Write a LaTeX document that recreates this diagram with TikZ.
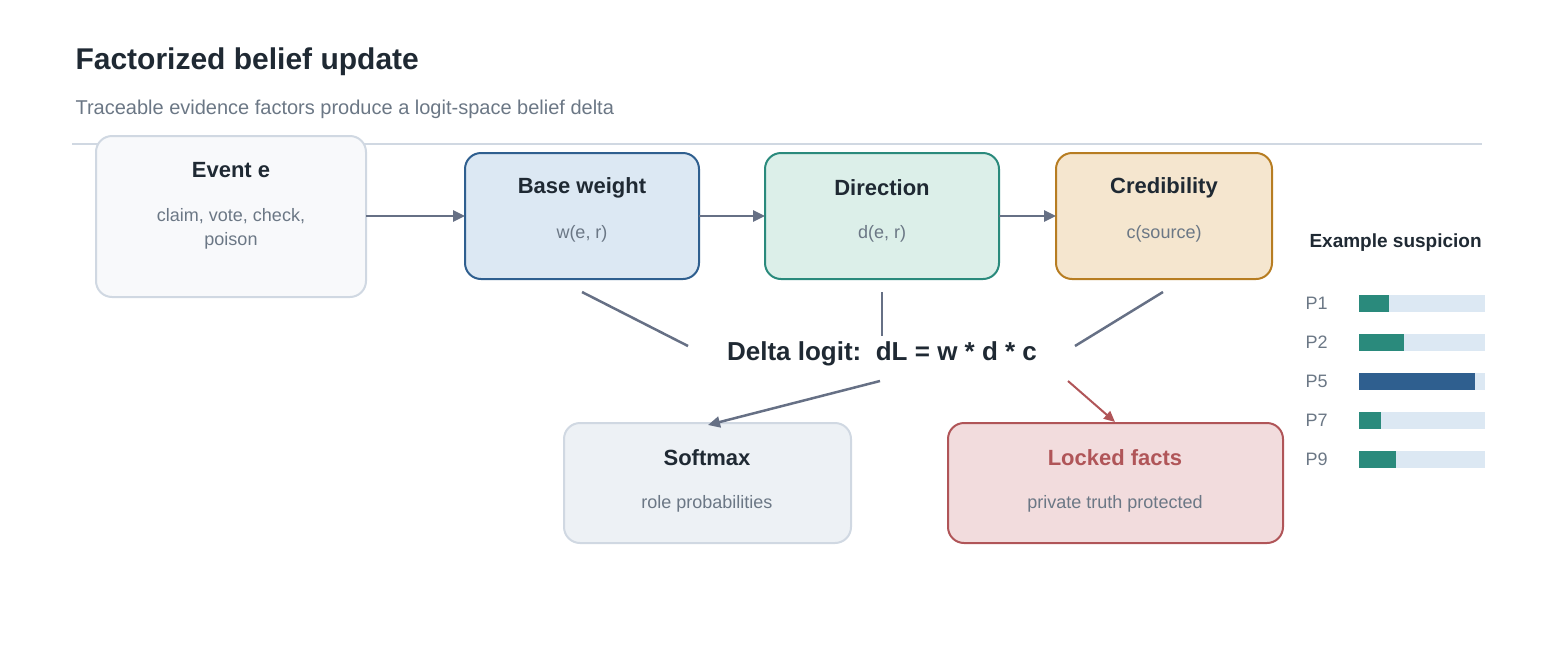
\documentclass[tikz,border=0pt]{standalone}
\usepackage{fontspec}
\setmainfont{Liberation Sans}
\usetikzlibrary{arrows.meta}
\definecolor{ink}{HTML}{1F2933}
\definecolor{mute}{HTML}{6B7785}
\definecolor{edge}{HTML}{667085}
\definecolor{bluef}{HTML}{DCE8F3}\definecolor{blued}{HTML}{2F5F8F}
\definecolor{tealf}{HTML}{DCEFE9}\definecolor{teald}{HTML}{2A8A7C}
\definecolor{ochf}{HTML}{F5E6CF}\definecolor{ochd}{HTML}{B77D22}
\definecolor{grayf}{HTML}{EDF1F5}\definecolor{grayd}{HTML}{D0D8E2}
\definecolor{redf}{HTML}{F2DCDD}\definecolor{redd}{HTML}{B05558}
\tikzset{
  box/.style = {rounded corners=16pt, line width=2pt},
  head/.style = {font=\fontsize{22}{26}\selectfont\bfseries, text=ink},
  sub/.style = {font=\fontsize{18}{24}\selectfont, text=mute, align=center},
  flow/.style = {draw=edge, line width=2.5pt, -{Triangle[length=12pt,width=11pt]}},
  link/.style = {draw=edge, line width=2.5pt},
  track/.style = {fill=bluef},
  plab/.style = {font=\fontsize{18}{20}\selectfont, text=mute, anchor=west}
}
\begin{document}
\begin{tikzpicture}[x=1pt,y=-1pt]
	\useasboundingbox (0,0) rectangle (1556,670);
	
	% Header
	\node[anchor=west, font=\fontsize{30}{34}\selectfont\bfseries, text=ink] (title) at (72,62) {Factorized belief update};
	\node[anchor=west, font=\fontsize{20}{24}\selectfont, text=mute] (subtitle) at (72,109) {Traceable evidence factors produce a logit-space belief delta};
	\draw[grayd, line width=1.5pt] (72,144) -- (1482,144);
	
	% Boxes
	\draw[box, fill=white!60!grayf, draw=grayd] (96,136) rectangle (366,297);
	\draw[box, fill=bluef, draw=blued] (465,153) rectangle (699,279);
	\draw[box, fill=tealf, draw=teald] (765,153) rectangle (999,279);
	\draw[box, fill=ochf, draw=ochd] (1056,153) rectangle (1272,279);
	\draw[box, fill=grayf, draw=grayd] (564,423) rectangle (851,543);
	\draw[box, fill=redf, draw=redd] (948,423) rectangle (1283,543);
	
	% Texts
	\node[head] (event) at (231,170) {Event e};
	\node[sub] (eventsub) at (231,229) {claim, vote, check,\\poison};
	\node[head] (base) at (582,188) {Base weight};
	\node[sub] (basesub) at (582,234) {w(e, r)};
	\node[head] (dir) at (882,188) {Direction};
	\node[sub] (dirsub) at (882,234) {d(e, r)};
	\node[head] (cred) at (1164,188) {Credibility};
	\node[sub] (credsub) at (1164,234) {c(source)};
	\node[head] (soft) at (707,458) {Softmax};
	\node[sub] (softsub) at (707,504) {role probabilities};
	\node[head, text=redd] (lock) at (1115,458) {Locked facts};
	\node[sub] (locksub) at (1115,504) {private truth protected};
	\node[font=\fontsize{26}{30}\selectfont\bfseries, text=ink] (delta) at (882,354) {Delta logit:\ \ dL = w * d * c};
	
	% Anchors for connectors
	\coordinate (eR) at (366,216); \coordinate (bL) at (465,216);
	\coordinate (bR) at (699,216); \coordinate (dL) at (765,216);
	\coordinate (dR) at (999,216); \coordinate (cL) at (1056,216);
	\coordinate (bB) at (582,292); \coordinate (xL) at (688,346);
	\coordinate (dB) at (882,292); \coordinate (xT) at (882,336);
	\coordinate (cB) at (1163,292); \coordinate (xR) at (1075,346);
	\coordinate (xS) at (880,381); \coordinate (sT) at (708,425);
	\coordinate (xK) at (1068,381); \coordinate (kT) at (1115,422);
	
	% Connectors
	\draw[flow] (eR) -- (bL);
	\draw[flow] (bR) -- (dL);
	\draw[flow] (dR) -- (cL);
	\draw[link] (bB) -- (xL);
	\draw[link] (dB) -- (xT);
	\draw[link] (cB) -- (xR);
	\draw[flow] (xS) -- (sT);
	\draw[flow, draw=redd, line width=2pt, -{Triangle[length=11pt,width=10pt]}, redd] (xK) -- (kT);
	
	% Suspicion bars
	\node[anchor=west, font=\fontsize{19}{22}\selectfont\bfseries, text=ink] (susp) at (1306,243) {Example suspicion};
	\foreach \p/\y/\v/\c in {P1/303/1389/teald, P2/342/1404/teald, P5/381/1475/blued, P7/420/1381/teald, P9/459/1396/teald}{
		\node[plab] (lab\p) at (1302,\y) {\p};
		\fill[track] (1359,\y-8.5) rectangle (1485,\y+8.5);
		\fill[\c] (1359,\y-8.5) rectangle (\v,\y+8.5);
	}
	
\end{tikzpicture}
\end{document}
